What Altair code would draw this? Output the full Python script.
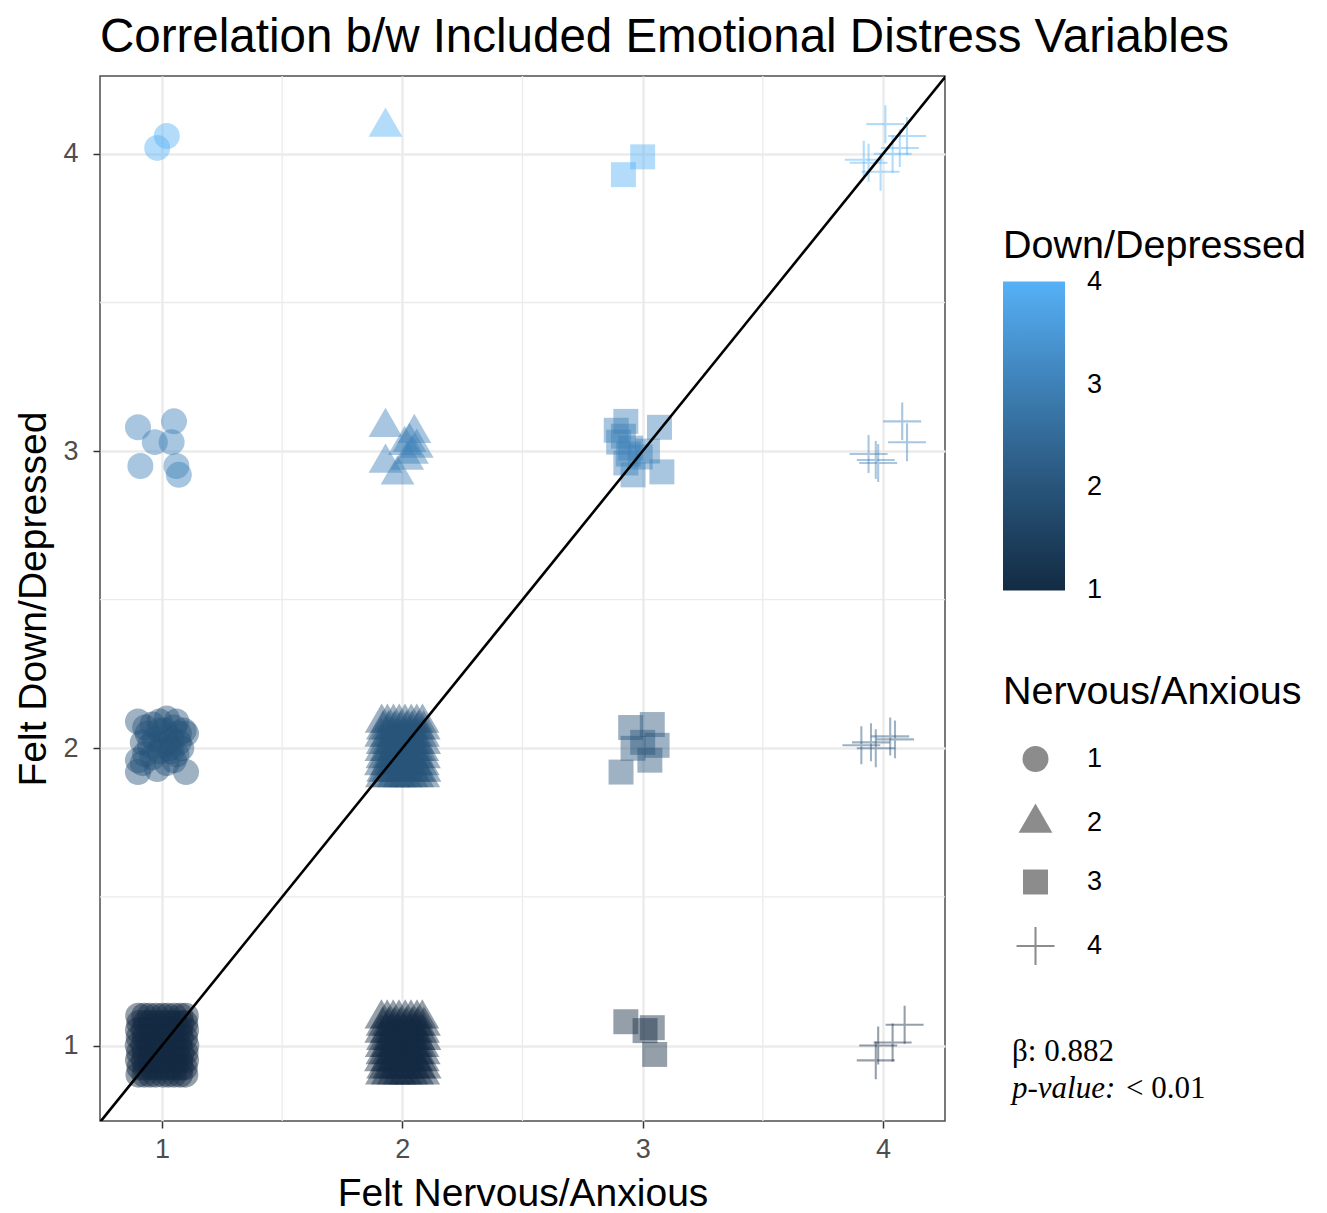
import altair as alt
import pandas as pd

title_text = "Correlation b/w Included Emotional Distress Variables"
x_title = "Felt Nervous/Anxious"
y_title = "Felt Down/Depressed"
color_title = "Down/Depressed"
shape_title = "Nervous/Anxious"
beta_text = "β: 0.882"
p_label = "p-value:"
p_text = "< 0.01"

levels = [1, 2, 3, 4]
minor_breaks = [1.5, 2.5, 3.5]
diag_ends = [0.6, 4.4]

# Dense groups: jittered Down/Depressed value -> jittered Nervous/Anxious values
rows_1_1 = {
    1.100: [0.901, 0.926, 0.949, 0.976, 1.002, 1.024, 1.051, 1.077, 1.099],
    1.076: [0.905, 0.931, 0.955, 0.981, 1.006, 1.031, 1.054, 1.081, 1.097],
    1.052: [0.900, 0.924, 0.952, 0.973, 0.999, 1.027, 1.048, 1.074, 1.100],
    1.027: [0.903, 0.929, 0.957, 0.979, 1.004, 1.029, 1.056, 1.078, 1.096],
    1.001: [0.899, 0.922, 0.947, 0.975, 1.001, 1.022, 1.049, 1.073, 1.101],
    0.976: [0.904, 0.928, 0.954, 0.982, 1.007, 1.033, 1.057, 1.082, 1.098],
    0.951: [0.900, 0.925, 0.950, 0.977, 0.998, 1.025, 1.052, 1.076, 1.100],
    0.926: [0.906, 0.930, 0.956, 0.980, 1.005, 1.030, 1.053, 1.079, 1.095],
    0.902: [0.902, 0.927, 0.951, 0.974, 1.003, 1.026, 1.050, 1.075, 1.097],
}
rows_2_1 = {
    1.090: [1.913, 1.937, 1.962, 1.986, 2.012, 2.036, 2.061, 2.083],
    1.066: [1.918, 1.943, 1.966, 1.991, 2.016, 2.041, 2.064, 2.090],
    1.042: [1.912, 1.935, 1.960, 1.985, 2.009, 2.033, 2.058, 2.086],
    1.018: [1.919, 1.944, 1.968, 1.993, 2.018, 2.043, 2.067, 2.092],
    0.994: [1.914, 1.938, 1.963, 1.988, 2.011, 2.035, 2.060, 2.084],
    0.970: [1.917, 1.941, 1.965, 1.990, 2.015, 2.039, 2.063, 2.089],
    0.946: [1.911, 1.936, 1.961, 1.984, 2.010, 2.034, 2.059, 2.085],
    0.922: [1.920, 1.945, 1.969, 1.994, 2.019, 2.044, 2.068, 2.093],
    0.902: [1.915, 1.939, 1.964, 1.989, 2.013, 2.038, 2.062, 2.087],
}
rows_2_2 = {
    2.085: [1.914, 1.938, 1.963, 1.987, 2.011, 2.037, 2.060, 2.084],
    2.062: [1.919, 1.942, 1.967, 1.992, 2.017, 2.040, 2.066, 2.089],
    2.038: [1.912, 1.936, 1.961, 1.986, 2.010, 2.034, 2.058, 2.086],
    2.014: [1.918, 1.943, 1.968, 1.993, 2.016, 2.042, 2.065, 2.091],
    1.990: [1.913, 1.937, 1.962, 1.985, 2.012, 2.035, 2.061, 2.083],
    1.966: [1.917, 1.944, 1.966, 1.991, 2.015, 2.041, 2.064, 2.090],
    1.942: [1.911, 1.935, 1.960, 1.988, 2.009, 2.036, 2.059, 2.085],
    1.920: [1.920, 1.941, 1.969, 1.994, 2.018, 2.043, 2.067, 2.092],
    1.902: [1.915, 1.939, 1.964, 1.989, 2.013, 2.038, 2.062, 2.087],
}

# Sparser groups: (Nervous/Anxious, Down/Depressed) jittered pairs
pts_1_2 = [(0.90, 2.09), (1.02, 2.10), (1.09, 2.06), (0.99, 2.06), (0.92, 2.02), (0.90, 1.96),
           (0.96, 1.97), (1.05, 1.96), (1.10, 1.92), (1.08, 2.00), (1.10, 2.05), (0.90, 1.92),
           (1.02, 2.02), (0.95, 2.01), (1.02, 1.95), (0.99, 2.09), (1.06, 2.09), (1.04, 2.03),
           (0.93, 2.07), (0.97, 2.03), (1.05, 2.07), (1.07, 2.02), (0.93, 1.98), (0.99, 1.99),
           (1.06, 1.98), (0.98, 1.93), (0.94, 2.05), (1.03, 2.00), (1.01, 2.06), (0.96, 2.08),
           (1.04, 1.99), (0.92, 1.95), (1.00, 2.01), (1.07, 2.05)]
pts_1_3 = [(0.90, 3.08), (1.05, 3.10), (0.97, 3.03), (1.04, 3.03), (0.91, 2.95), (1.06, 2.95),
           (1.07, 2.92)]
pts_1_4 = [(1.02, 4.06), (0.98, 4.02)]
pts_2_3 = [(1.93, 3.08), (2.05, 3.06), (2.01, 3.02), (2.04, 2.99), (1.93, 2.96), (1.98, 2.92),
           (2.03, 3.03), (2.02, 2.97), (2.06, 3.01)]
pts_2_4 = [(1.93, 4.09)]
pts_3_1 = [(2.93, 1.08), (3.01, 1.05), (3.04, 1.06), (3.05, 0.97)]
pts_3_2 = [(2.95, 2.07), (3.04, 2.08), (3.06, 2.01), (2.96, 2.00), (2.91, 1.92), (3.03, 1.96),
           (3.00, 2.02)]
pts_3_3 = [(2.93, 3.10), (3.07, 3.08), (2.90, 3.03), (2.95, 3.01), (2.99, 2.98), (3.08, 2.93),
           (2.93, 2.96), (2.96, 2.92), (2.89, 3.07), (3.02, 3.00), (2.92, 3.05), (2.94, 2.99)]
pts_3_4 = [(3.00, 3.99), (2.92, 3.93)]
pts_4_1 = [(3.98, 1.00), (3.97, 0.95), (4.04, 1.01), (4.09, 1.07)]
pts_4_2 = [(3.91, 2.01), (3.95, 2.02), (3.97, 2.00), (4.03, 2.04), (4.05, 2.03)]
pts_4_3 = [(4.08, 3.10), (4.10, 3.03), (3.94, 2.99), (3.97, 2.97), (3.98, 2.96)]
pts_4_4 = [(4.01, 4.10), (4.07, 4.02), (3.94, 3.97), (3.99, 3.94), (4.04, 4.00), (4.10, 4.06),
           (3.92, 3.98)]

dense = {(1, 1): rows_1_1, (2, 1): rows_2_1, (2, 2): rows_2_2}
sparse = {
    (1, 2): pts_1_2, (1, 3): pts_1_3, (1, 4): pts_1_4,
    (2, 3): pts_2_3, (2, 4): pts_2_4,
    (3, 1): pts_3_1, (3, 2): pts_3_2, (3, 3): pts_3_3, (3, 4): pts_3_4,
    (4, 1): pts_4_1, (4, 2): pts_4_2, (4, 3): pts_4_3, (4, 4): pts_4_4,
}

rows = []
for (nx, dep), table in dense.items():
    for jy, xs in table.items():
        for jx in xs:
            rows.append({"nx": nx, "dep": dep, "jx": jx, "jy": jy})
for (nx, dep), pts in sparse.items():
    for jx, jy in pts:
        rows.append({"nx": nx, "dep": dep, "jx": jx, "jy": jy})
df = pd.DataFrame(rows)

FONT = "Liberation Sans"
SERIF = "Liberation Serif"

xscale = alt.Scale(domain=[0.742, 4.258], nice=False, zero=False)
yscale = alt.Scale(domain=[0.746, 4.262], nice=False, zero=False)

common_axis = dict(
    values=levels, format="d", grid=True, gridColor="#EBEBEB", gridWidth=2.4,
    domain=False, tickColor="#333333", tickSize=7, tickWidth=1.5,
    labelFont=FONT, labelFontSize=27, labelColor="#4D4D4D",
    titleFont=FONT, titleFontSize=39, titleFontWeight="normal", titleColor="black",
)
xaxis = alt.Axis(labelPadding=8, titlePadding=12, **common_axis)
yaxis = alt.Axis(labelPadding=15, titlePadding=9, **common_axis)


def X(field):
    return alt.X(field, scale=xscale, axis=xaxis, title=x_title)


def Y(field):
    return alt.Y(field, scale=yscale, axis=yaxis, title=y_title)


# colour bar runs from answer 1 to answer 4 (a hair wider so end labels centre on the ends)
cscale = alt.Scale(domain=[0.998, 4.002], range=["#132B43", "#56B1F7"], interpolate="lab")
shape_range = [
    "circle",
    "M0,-1.5L1.3,0.75L-1.3,0.75Z",
    "M-0.96,-0.96H0.96V0.96H-0.96Z",
    "M-1.46,-0.08H-0.08V-1.46H0.08V-0.08H1.46V0.08H0.08V1.46H-0.08V0.08H-1.46Z",
]

minor_df = pd.DataFrame({"v": minor_breaks})
vminor = alt.Chart(minor_df).mark_rule(color="#EBEBEB", strokeWidth=1.3).encode(x=X("v:Q"))
hminor = alt.Chart(minor_df).mark_rule(color="#EBEBEB", strokeWidth=1.3).encode(y=Y("v:Q"))

legend_text = dict(
    labelFont=FONT, labelFontSize=27, labelColor="black", titleLimit=500, labelLimit=200,
    titleFont=FONT, titleFontSize=39.5, titleFontWeight="normal", titleColor="black",
    padding=0, orient="none", legendX=903,
)

points = alt.Chart(df).mark_point(filled=True, size=676, fillOpacity=0.45, strokeWidth=0).encode(
    x=X("jx:Q"),
    y=Y("jy:Q"),
    color=alt.Color(
        "dep:Q", scale=cscale,
        legend=alt.Legend(
            type="gradient", direction="vertical", title=color_title, legendY=151,
            values=levels, format="d", gradientLength=309, gradientThickness=62,
            gradientStrokeWidth=0, labelOffset=22, labelBaseline="middle",
            titlePadding=15, **legend_text,
        ),
    ),
    shape=alt.Shape(
        "nx:N", scale=alt.Scale(domain=levels, range=shape_range),
        legend=alt.Legend(
            title=shape_title, legendY=597,
            symbolSize=676, symbolFillColor="black", symbolStrokeWidth=0,
            symbolOpacity=0.45, symbolOffset=19,
            labelOffset=38, rowPadding=31, titlePadding=33, **legend_text,
        ),
    ),
)

diag_df = pd.DataFrame({"a": diag_ends})
diag = alt.Chart(diag_df).mark_line(color="black", strokeWidth=2.6, clip=True).encode(
    x=X("a:Q"), y=Y("a:Q")
)

beta = alt.Chart(pd.DataFrame({"t": [beta_text]})).mark_text(
    align="left", baseline="alphabetic", font=SERIF, fontSize=31, color="black"
).encode(text="t:N", x=alt.value(912), y=alt.value(985))
plab = alt.Chart(pd.DataFrame({"t": [p_label]})).mark_text(
    align="left", baseline="alphabetic", font=SERIF, fontSize=31, fontStyle="italic", color="black"
).encode(text="t:N", x=alt.value(912), y=alt.value(1022))
pval = alt.Chart(pd.DataFrame({"t": [p_text]})).mark_text(
    align="left", baseline="alphabetic", font=SERIF, fontSize=31, color="black"
).encode(text="t:N", x=alt.value(1026), y=alt.value(1022))

chart = alt.layer(vminor, hminor, points, diag, beta, plab, pval).properties(
    width=845, height=1045,
    padding={"left": 6, "top": 5, "right": 5, "bottom": 5},
    title=alt.Title(title_text, anchor="start", frame="group", font=FONT, fontSize=47.5,
                    fontWeight="normal", color="black", offset=14),
).configure_view(stroke="#4D4D4D", strokeWidth=1.5)

chart.save("out.html", embed_options={"renderer": "svg", "actions": False})
